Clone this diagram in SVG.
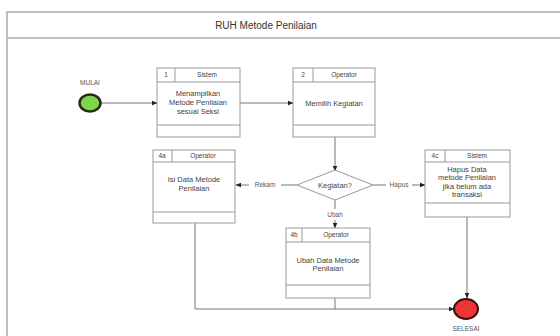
<svg xmlns="http://www.w3.org/2000/svg" width="560" height="336" viewBox="0 0 560 336">
  <defs>
    <marker id="arr" viewBox="0 0 10 10" refX="9" refY="5" markerWidth="6" markerHeight="6" orient="auto" markerUnits="userSpaceOnUse">
      <path d="M0,1 L10,5 L0,9 z" fill="#222"/>
    </marker>
    <style>
      .frame { fill: #fff; stroke: #aaa; stroke-width: 1.5; }
      .box { fill: #fff; stroke: #999; stroke-width: 1; }
      .sep { stroke: #999; stroke-width: 1; fill: none; }
      .t { font-family: "Liberation Sans", Arial, sans-serif; font-size: 7.5px; fill: #444; text-anchor: middle; }
      .h { font-family: "Liberation Sans", Arial, sans-serif; font-size: 6.5px; fill: #444; text-anchor: middle; }
      .title { font-family: "Liberation Sans", Arial, sans-serif; font-size: 10px; fill: #333; text-anchor: middle; }
      .lbl { font-family: "Liberation Sans", Arial, sans-serif; font-size: 6.5px; fill: #555; text-anchor: middle; }
      .edge { stroke: #777; stroke-width: 1; fill: none; }
      .arrow { marker-end: url(#arr); }
    </style>
  </defs>

  <rect width="560" height="336" fill="#fff"/>

  <!-- swimlane frame with title band -->
  <g id="frame">
    <rect class="frame" x="7" y="12" width="570" height="340"/>
    <line x1="7" y1="38" x2="570" y2="38" stroke="#aaa" stroke-width="1.5"/>
    <text class="title" x="266" y="28.5">RUH Metode Penilaian</text>
  </g>

  <!-- connectors -->
  <g id="connectors">
    <line class="edge arrow" x1="101" y1="103" x2="157" y2="103"/>
    <line class="edge arrow" x1="240" y1="103" x2="293" y2="103"/>
    <line class="edge arrow" x1="335" y1="137" x2="335" y2="171"/>
    <line class="edge" x1="297" y1="185" x2="281" y2="185"/>
    <line class="edge arrow" x1="249" y1="185" x2="236" y2="185"/>
    <text class="lbl" x="265" y="187.3">Rekam</text>
    <line class="edge" x1="373" y1="185" x2="386" y2="185"/>
    <line class="edge arrow" x1="412" y1="185" x2="425" y2="185"/>
    <text class="lbl" x="399" y="187.3">Hapus</text>
    <line class="edge" x1="335" y1="200" x2="335" y2="209"/>
    <line class="edge arrow" x1="335" y1="220" x2="335" y2="228"/>
    <text class="lbl" x="335" y="217">Ubah</text>
    <polyline class="edge arrow" points="195,223 195,309 454,309"/>
    <line class="edge" x1="335" y1="298" x2="335" y2="309"/>
    <line class="edge arrow" x1="467" y1="217" x2="467" y2="298"/>
  </g>

  <!-- start -->
  <g id="start">
    <ellipse cx="90" cy="103" rx="10.5" ry="8.5" fill="#7ed64c" stroke="#2a2a10" stroke-width="2.5"/>
    <text class="lbl" x="90" y="85">MULAI</text>
  </g>

  <!-- 1 Sistem -->
  <g id="step1">
    <rect class="box" x="157" y="68" width="83" height="69"/>
    <line class="sep" x1="157" y1="82" x2="240" y2="82"/>
    <line class="sep" x1="175" y1="68" x2="175" y2="82"/>
    <line class="sep" x1="157" y1="125" x2="240" y2="125"/>
    <text class="h" x="166" y="77.3">1</text>
    <text class="h" x="207" y="77.3">Sistem</text>
    <text class="t" x="198" y="95.7">Menampilkan</text>
    <text class="t" x="198" y="104.7">Metode Penilaian</text>
    <text class="t" x="198" y="114">sesuai Seksi</text>
  </g>

  <!-- 2 Operator -->
  <g id="step2">
    <rect class="box" x="293" y="68" width="82" height="69"/>
    <line class="sep" x1="293" y1="82" x2="375" y2="82"/>
    <line class="sep" x1="313" y1="68" x2="313" y2="82"/>
    <line class="sep" x1="293" y1="125" x2="375" y2="125"/>
    <text class="h" x="303" y="77.3">2</text>
    <text class="h" x="344" y="77.3">Operator</text>
    <text class="t" x="334" y="105.7">Memilih Kegiatan</text>
  </g>

  <!-- decision -->
  <g id="decision">
    <polygon points="335,170 373,185 335,200 297,185" fill="#fff" stroke="#999" stroke-width="1"/>
    <text class="t" x="335" y="187.7">Kegiatan?</text>
  </g>

  <!-- 4a Operator -->
  <g id="step4a">
    <rect class="box" x="153" y="150" width="82" height="73"/>
    <line class="sep" x1="153" y1="162" x2="235" y2="162"/>
    <line class="sep" x1="172" y1="150" x2="172" y2="162"/>
    <line class="sep" x1="153" y1="212" x2="235" y2="212"/>
    <text class="h" x="162" y="158.3">4a</text>
    <text class="h" x="203" y="158.3">Operator</text>
    <text class="t" x="194" y="181.7">Isi Data Metode</text>
    <text class="t" x="194" y="190.7">Penilaian</text>
  </g>

  <!-- 4c Sistem -->
  <g id="step4c">
    <rect class="box" x="425" y="150" width="85" height="67"/>
    <line class="sep" x1="425" y1="162" x2="510" y2="162"/>
    <line class="sep" x1="445" y1="150" x2="445" y2="162"/>
    <line class="sep" x1="425" y1="203" x2="510" y2="203"/>
    <text class="h" x="435" y="158.3">4c</text>
    <text class="h" x="477" y="158.3">Sistem</text>
    <text class="t" x="467" y="171.7">Hapus Data</text>
    <text class="t" x="467" y="180.2">metode Penilaian</text>
    <text class="t" x="467" y="188.7">jika belum ada</text>
    <text class="t" x="467" y="197.2">transaksi</text>
  </g>

  <!-- 4b Operator -->
  <g id="step4b">
    <rect class="box" x="286" y="228" width="84" height="70"/>
    <line class="sep" x1="286" y1="242" x2="370" y2="242"/>
    <line class="sep" x1="302" y1="228" x2="302" y2="242"/>
    <line class="sep" x1="286" y1="285" x2="370" y2="285"/>
    <text class="h" x="294" y="237.3">4b</text>
    <text class="h" x="336" y="237.3">Operator</text>
    <text class="t" x="328" y="262.7">Ubah Data Metode</text>
    <text class="t" x="328" y="271.2">Penilaian</text>
  </g>

  <!-- end -->
  <g id="end">
    <ellipse cx="466" cy="309" rx="12" ry="10" fill="#ee3535" stroke="#3a1010" stroke-width="2"/>
    <text class="lbl" x="466" y="331">SELESAI</text>
  </g>
</svg>
